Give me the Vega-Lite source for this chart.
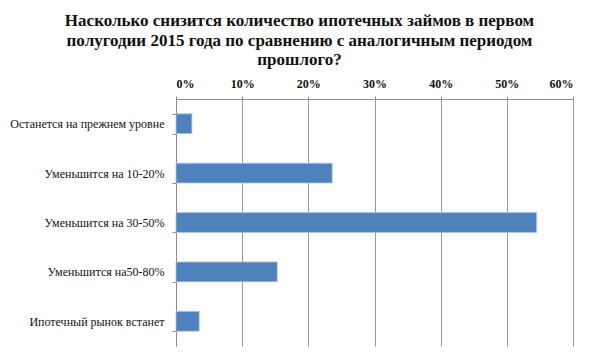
{
  "$schema": "https://vega.github.io/schema/vega-lite/v6.json",
  "autosize": "none",
  "width": 397,
  "height": 247,
  "padding": {"left": 176, "top": 99, "right": 27, "bottom": 14},
  "background": "white",
  "title": {
    "text": ["Насколько снизится количество ипотечных займов в первом", "полугодии 2015 года по сравнению с аналогичным периодом", "прошлого?"],
    "font": "Liberation Serif",
    "fontSize": 17,
    "fontWeight": "bold",
    "color": "#111111",
    "anchor": "middle",
    "dx": -75,
    "lineHeight": 19.5,
    "offset": 8
  },
  "data": {
    "values": [
      {"answer": "Останется на прежнем уровне", "share": 0.024},
      {"answer": "Уменьшится на 10-20%", "share": 0.236},
      {"answer": "Уменьшится на 30-50%", "share": 0.545},
      {"answer": "Уменьшится на50-80%", "share": 0.153},
      {"answer": "Ипотечный рынок встанет", "share": 0.035}
    ]
  },
  "mark": {"type": "bar", "color": "#4F81BD", "stroke": "#a9c1e0", "strokeWidth": 0.8},
  "encoding": {
    "y": {
      "field": "answer", "type": "nominal", "sort": null,
      "scale": {"paddingInner": 0.6, "paddingOuter": 0.3},
      "axis": {
        "title": null,
        "labelFont": "Liberation Serif", "labelFontSize": 12, "labelColor": "#111111",
        "labelPadding": 8,
        "domainColor": "#8c8c8c", "tickColor": "#8c8c8c", "tickSize": 4,
        "tickBand": "extent", "grid": false
      }
    },
    "x": {
      "field": "share", "type": "quantitative",
      "scale": {"domain": [0, 0.6], "nice": false},
      "axis": {
        "orient": "top", "format": ".0%", "values": [0, 0.1, 0.2, 0.3, 0.4, 0.5, 0.6],
        "title": null,
        "labelFont": "Liberation Serif", "labelFontSize": 12, "labelFontWeight": "bold", "labelColor": "#111111",
        "labelPadding": 6,
        "domainColor": "#8c8c8c", "tickColor": "#8c8c8c", "tickSize": 3,
        "grid": true, "gridColor": "#9a9a9a", "gridWidth": 1
      }
    }
  },
  "config": {"view": {"stroke": null}}
}
